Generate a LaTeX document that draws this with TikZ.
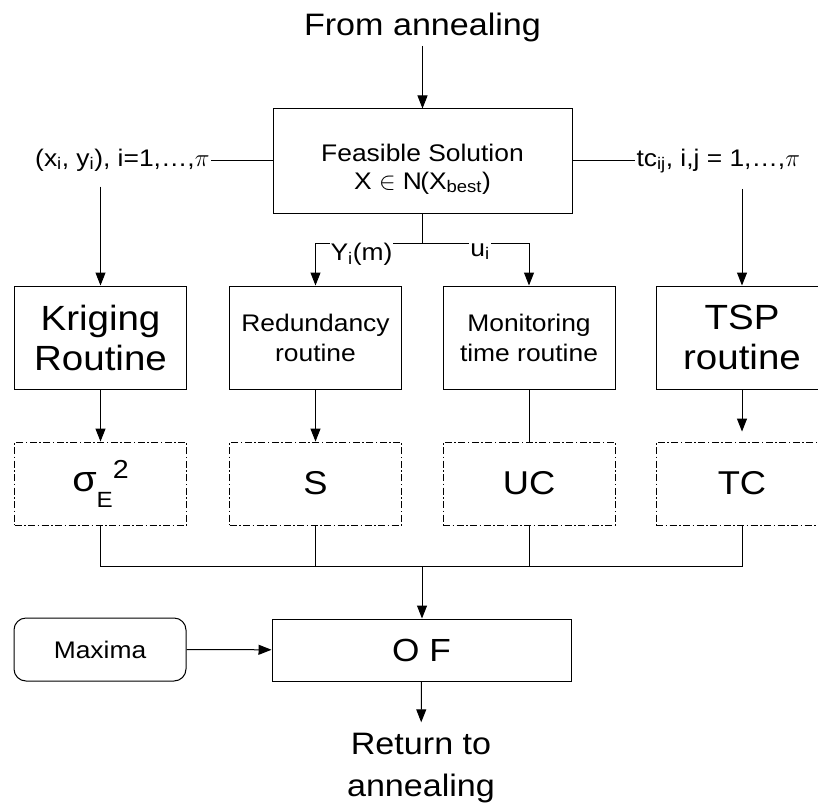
\documentclass[tikz,border=0pt]{standalone}
\usepackage{fontspec}
\setmainfont{Liberation Sans}[FakeStretch=1.1]
\usetikzlibrary{arrows.meta}

\newcommand{\fsz}[2]{\fontsize{#1}{#2}\selectfont}

\begin{document}
\begin{tikzpicture}[x=1pt,y=-1pt,line width=1pt,
  box/.style={draw,minimum width=172pt,minimum height=103pt,inner sep=0pt,align=center},
  dashbox/.style={draw,line width=0.9pt,dash pattern=on 7pt off 2.5pt on 1.5pt off 2.5pt,
    minimum width=172pt,minimum height=83pt,inner sep=0pt},
  lbl/.style={inner sep=1pt,fill=white,font=\fsz{24}{24}},
  arr/.style={-{Triangle[length=13pt,width=10pt]}}]
  \path[fill=white,use as bounding box] (0,0) rectangle (818,805);

  \node[font=\fsz{31}{38}] (from) at (422.5,27.5) {From annealing};
  \node[box,minimum width=299pt,minimum height=104pt,font=\fsz{24}{28}] (feas) at (422.5,161)
    {\rule{0pt}{33pt}Feasible Solution\\X $\in$ $\mathrm{N}$(X\textsubscript{best})};
  \node[lbl,anchor=east] (xyin) at (211,160) {(x\textsubscript{i}, y\textsubscript{i}), i=1,…,$\pi$};
  \node[lbl,anchor=west] (tcin) at (635,161) {tc\textsubscript{ij}, i,j = 1,…,$\pi$};

  \node[box,font=\fsz{35}{40}] (krig) at (100.5,337.5) {Kriging\\Routine};
  \node[box,font=\fsz{24}{30}] (red) at (315.5,337.5) {Redundancy\\routine};
  \node[box,font=\fsz{24}{30}] (mon) at (529,337.5) {Monitoring\\time routine};
  \node[box,font=\fsz{35}{40}] (tsp) at (742,337.5) {TSP\\routine};

  \node[dashbox] (sig) at (100.5,483.5)
    {\fsz{36}{36}σ\raisebox{-16pt}{\fsz{22}{22}E}\raisebox{13pt}{\fsz{26}{26}2}};
  \node[dashbox,font=\fsz{33}{33}] (s) at (315.5,483.5) {S};
  \node[dashbox,font=\fsz{33}{33}] (uc) at (529,483.5) {UC};
  \node[dashbox,font=\fsz{33}{33}] (tc) at (742,483.5) {TC};

  \node[draw,rounded corners=12pt,minimum width=172pt,minimum height=63pt,font=\fsz{24}{24}] (max) at (100,649.5) {Maxima};
  \node[box,minimum width=299pt,minimum height=62pt,font=\fsz{32}{32}] (of) at (421.5,650) {O F};
  \node[align=center,font=\fsz{31}{42}] (ret) at (421,768) {Return to\\annealing};

  \draw[arr] (from) -- (feas);
  \draw (feas.west) -- (feas.west -| xyin.east);
  \draw (feas.east) -- (feas.east -| tcin.west);
  \draw[arr,shorten <=14pt] (xyin.south -| krig.north) -- (krig.north);
  \draw[arr,shorten <=14pt] (tcin.south -| tsp.north) -- (tsp.north);

  \coordinate (fork) at (422.5,243);
  \draw (feas.south) -- (fork);
  \draw[arr] (fork) -| node[lbl,pos=0.285,anchor=north,yshift=1pt] {Y\textsubscript{i}(m)} (red.north);
  \draw[arr] (fork) -| node[lbl,pos=0.27,anchor=north,yshift=1pt] {u\textsubscript{i}} (mon.north);

  \draw[arr] (krig) -- (sig);
  \draw[arr] (red) -- (s);
  \draw (mon) -- (uc);
  \draw[arr,shorten >=10pt] (tsp) -- (tc);

  \coordinate (bus) at (422,566);
  \draw (sig.south) |- (bus -| tc.south) -- (tc.south);
  \draw (s.south) -- (s.south |- bus);
  \draw (uc.south) -- (uc.south |- bus);
  \draw[arr] (bus) -- (bus |- of.north);
  \draw[arr] (max) -- (of);
  \draw[arr,shorten >=7pt] (of) -- (ret);
\end{tikzpicture}
\end{document}
